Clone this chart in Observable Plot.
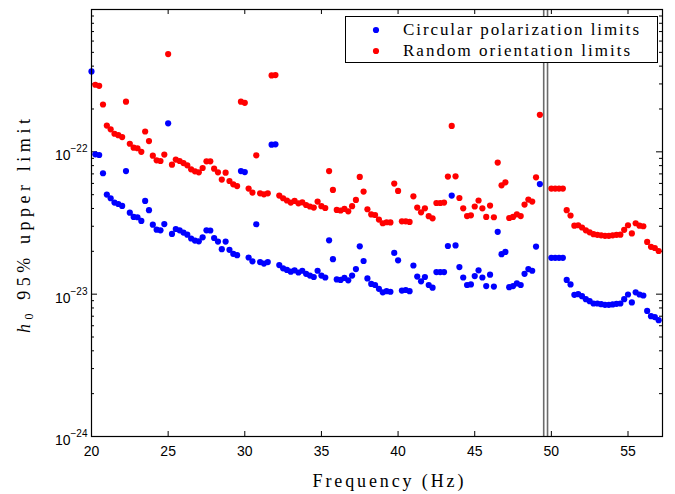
<!DOCTYPE html>
<html>
<head>
<meta charset="utf-8">
<script src="https://cdn.jsdelivr.net/npm/d3@7"></script>
<script src="https://cdn.jsdelivr.net/npm/@observablehq/plot@0.6"></script>
<style>
  html, body { margin: 0; padding: 0; background: #fff; }
  #chart { width: 675px; height: 494px; }
</style>
</head>
<body>
<div id="chart"></div>
<script>
// Frequencies (Hz)
const freq = [
  20, 20.25, 20.5, 20.75, 21, 21.25, 21.5, 21.75, 22, 22.25, 22.5, 22.75, 23, 23.25, 23.5, 23.75,
  24, 24.25, 24.5, 24.75, 25, 25.25, 25.5, 25.75, 26, 26.25, 26.5, 26.75, 27, 27.25, 27.5, 27.75,
  28, 28.25, 28.5, 28.75, 29, 29.25, 29.5, 29.75, 30, 30.25, 30.5, 30.75, 31, 31.25, 31.5, 31.75,
  32, 32.25, 32.5, 32.75, 33, 33.25, 33.5, 33.75, 34, 34.25, 34.5, 34.75, 35, 35.25, 35.5, 35.75,
  36, 36.25, 36.5, 36.75, 37, 37.25, 37.5, 37.75, 38, 38.25, 38.5, 38.75, 39, 39.25, 39.5, 39.75,
  40, 40.25, 40.5, 40.75, 41, 41.25, 41.5, 41.75, 42, 42.25, 42.5, 42.75, 43, 43.25, 43.5, 43.75,
  44, 44.25, 44.5, 44.75, 45, 45.25, 45.5, 45.75, 46, 46.25, 46.5, 46.75, 47, 47.25, 47.5, 47.75,
  48, 48.25, 48.5, 48.75, 49, 49.25,
  50, 50.25, 50.5, 50.75, 51, 51.25, 51.5, 51.75, 52, 52.25, 52.5, 52.75, 53, 53.25, 53.5, 53.75,
  54, 54.25, 54.5, 54.75, 55, 55.25, 55.5, 55.75, 56, 56.25, 56.5, 56.75, 57
];
// Circular polarization limits, in units of 1e-23
const circular = [
  36.7, 9.60, 9.50, 7.07, 5.01, 4.72, 4.40, 4.30, 4.17, 7.33, 3.74, 3.49, 3.47, 3.27, 4.52, 3.89,
  3.08, 2.84, 2.81, 3.11, 15.85, 2.65, 2.87, 2.81, 2.71, 2.62, 2.46, 2.38, 2.35, 2.51, 2.81, 2.80,
  2.48, 2.34, 2.07, 2.34, 2.05, 1.92, 1.88, 7.33, 7.21, 1.81, 1.70, 3.10, 1.68, 1.64, 1.68, 11.23,
  11.29, 1.60, 1.52, 1.48, 1.44, 1.47, 1.42, 1.46, 1.39, 1.35, 1.32, 1.46, 1.35, 1.31, 2.39, 1.76,
  1.27, 1.26, 1.30, 1.25, 1.35, 1.50, 2.17, 1.71, 1.29, 1.18, 1.16, 1.09, 1.03, 1.05, 1.04, 1.95,
  1.73, 1.06, 1.07, 1.05, 1.59, 1.33, 1.23, 1.32, 1.16, 1.11, 1.43, 1.43, 1.43, 2.18, 4.93, 2.20,
  1.55, 1.31, 1.16, 1.17, 1.34, 1.47, 1.31, 1.14, 1.37, 1.13, 2.74, 1.91, 1.98, 1.12, 1.14, 1.19,
  1.16, 1.39, 1.50, 1.46, 2.16, 5.94,
  1.80, 1.80, 1.80, 1.80, 1.26, 1.17, 0.99, 1.00, 0.968, 0.922, 0.893, 0.860, 0.860, 0.851, 0.841, 0.841,
  0.847, 0.855, 0.860, 0.922, 0.995, 0.875, 1.03, 0.995, 0.979, 0.763, 0.701, 0.690, 0.657
];
// Random orientation limits, in units of 1e-23 (first one is above the plotted range)
const random = [
  null, 29.6, 29.1, 21.5, 15.3, 14.4, 13.4, 13.1, 12.7, 22.5, 11.4, 10.7, 10.6, 10.0, 13.9, 11.9,
  9.40, 8.72, 8.62, 9.56, 48.6, 8.13, 8.82, 8.62, 8.34, 8.04, 7.54, 7.30, 7.18, 7.70, 8.58, 8.58,
  7.62, 7.18, 6.38, 7.14, 6.24, 5.91, 5.75, 22.5, 22.1, 5.52, 5.17, 9.45, 5.11, 5.03, 5.11, 34.4,
  34.6, 4.93, 4.72, 4.55, 4.40, 4.52, 4.35, 4.42, 4.23, 4.13, 4.06, 4.47, 4.15, 4.03, 7.33, 5.40,
  3.91, 3.87, 3.97, 3.82, 4.15, 4.59, 6.66, 5.26, 3.95, 3.63, 3.60, 3.34, 3.15, 3.20, 3.19, 5.98,
  5.31, 3.25, 3.25, 3.22, 4.87, 4.06, 3.76, 4.01, 3.53, 3.41, 4.37, 4.37, 4.40, 6.70, 15.2, 6.73,
  4.74, 4.01, 3.54, 3.58, 4.13, 4.55, 4.01, 3.49, 4.19, 3.47, 8.40, 5.82, 6.11, 3.43, 3.49, 3.64,
  3.54, 4.26, 4.62, 4.47, 6.62, 18.2,
  5.52, 5.52, 5.52, 5.52, 3.89, 3.57, 3.03, 3.05, 2.94, 2.81, 2.72, 2.64, 2.61, 2.59, 2.57, 2.57,
  2.59, 2.61, 2.62, 2.83, 3.05, 2.67, 3.15, 3.03, 3.00, 2.33, 2.15, 2.11, 2.01
];
const unit = 1e-23;
const bandEdges = [49.5, 49.75];         // excluded band around 50 Hz
const xTicks = [20, 25, 30, 35, 40, 45, 50, 55];
const yMajor = [1e-24, 1e-23, 1e-22, 1e-21];
const yLabelTicks = [1e-24, 1e-23, 1e-22];
const yMinor = [1e-24, 1e-23, 1e-22].flatMap(b => [2,3,4,5,6,7,8,9].map(m => m * b));
const legendLabels = ["Circular polarization limits", "Random orientation limits"];
const xLabel = "Frequency (Hz)";

const circData = freq.map((f, i) => ({f, h: circular[i] * unit}));
const randData = freq.map((f, i) => ({f, h: random[i] == null ? null : random[i] * unit})).filter(d => d.h != null);

const W = 675, H = 494, mL = 91, mR = 13, mT = 9, mB = 58;
const iw = W - mL - mR, ih = H - mT - mB;
const serif = "'Liberation Serif', 'DejaVu Serif', serif";

const fig = Plot.plot({
  width: W, height: H,
  marginLeft: mL, marginRight: mR, marginTop: mT, marginBottom: mB,
  style: {fontFamily: "'Liberation Sans', Arial, sans-serif", fontSize: "14px", background: "white", color: "black", overflow: "visible"},
  x: {domain: [20, 57.25], axis: null},
  y: {type: "log", domain: [1e-24, 1e-21], axis: null},
  marks: [
    Plot.ruleX(bandEdges, {stroke: "#6b6b6b", strokeWidth: 1.6}),
    Plot.ruleX(xTicks, {insetTop: ih - 5, stroke: "black"}),
    Plot.ruleX(xTicks, {insetBottom: ih - 5, stroke: "black"}),
    Plot.ruleY(yMajor, {insetRight: iw - 6, stroke: "black"}),
    Plot.ruleY(yMajor, {insetLeft: iw - 6, stroke: "black"}),
    Plot.ruleY(yMinor, {insetRight: iw - 3, stroke: "black"}),
    Plot.ruleY(yMinor, {insetLeft: iw - 3, stroke: "black"}),
    Plot.dot(circData, {x: "f", y: "h", r: 3.1, fill: "#0000ff"}),
    Plot.dot(randData, {x: "f", y: "h", r: 3.1, fill: "#ff0000"}),
    Plot.frame({stroke: "black", strokeWidth: 1.2}),
    Plot.axisX({ticks: xTicks, tickSize: 0, tickPadding: 10, tickFormat: d => String(d), fontSize: 14, label: null}),
    Plot.axisY({ticks: yLabelTicks, tickSize: 0, tickPadding: 4, dy: 4, fontSize: 14, label: null,
      tickFormat: d => String(Math.round(Math.log10(d)))})
  ]
});
document.getElementById("chart").appendChild(fig);

const svg = d3.select(fig);
// Superscript exponents on y tick labels
svg.selectAll('g[aria-label="y-axis tick label"] text').each(function() {
  const t = d3.select(this);
  const e = t.text();
  t.text("10");
  t.append("tspan").attr("dy", -8).attr("font-size", 10).text(e.replace("-", "\u2212"));
});

// Axis labels
const yl = svg.append("text")
  .attr("transform", "translate(30,226) rotate(-90)")
  .attr("text-anchor", "middle")
  .attr("font-family", serif).attr("font-size", 18).attr("fill", "black")
  .attr("textLength", 214).attr("lengthAdjust", "spacing");
yl.append("tspan").attr("font-style", "italic").text("h");
yl.append("tspan").attr("font-size", 12).attr("dy", 3).text("0");
yl.append("tspan").attr("dy", -3).text(" 95% upper limit");

svg.append("text")
  .attr("x", 388).attr("y", 487)
  .attr("text-anchor", "middle")
  .attr("font-family", serif).attr("font-size", 18).attr("fill", "black")
  .attr("textLength", 151).attr("lengthAdjust", "spacing")
  .text(xLabel);

// Legend
const lg = svg.append("g");
lg.append("rect").attr("x", 345.5).attr("y", 16.5).attr("width", 312).attr("height", 46)
  .attr("fill", "white").attr("stroke", "black").attr("stroke-width", 1);
const lcol = ["#0000ff", "#ff0000"];
const lw = [236, 227];
legendLabels.forEach((s, i) => {
  const cy = 30 + i * 21;
  lg.append("circle").attr("cx", 376).attr("cy", cy).attr("r", 3.1).attr("fill", lcol[i]);
  lg.append("text").attr("x", 403).attr("y", cy + 5)
    .attr("text-anchor", "start")
    .attr("font-family", serif).attr("font-size", 17).attr("fill", "black")
    .attr("textLength", lw[i]).attr("lengthAdjust", "spacing")
    .text(s);
});
</script>
</body>
</html>
